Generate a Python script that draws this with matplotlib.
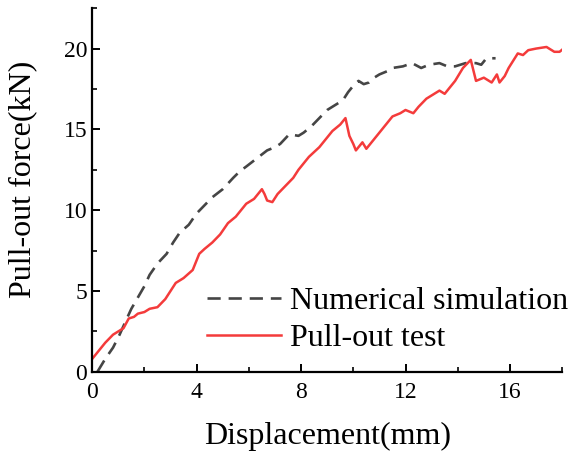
import matplotlib as mpl
mpl.use('Agg')
import matplotlib.pyplot as plt
from matplotlib.ticker import MultipleLocator

# Numerical simulation (dashed grey)
sim_x = [0.2, 0.5, 0.8, 1.05, 1.3, 1.5, 1.75, 2.0, 2.2, 2.5, 2.85, 3.1, 3.35, 3.7, 4.0,
         4.3, 4.6, 5.0, 5.4, 5.65, 5.9, 6.3, 6.7, 7.0, 7.2, 7.55, 7.9, 8.1, 8.4, 8.7,
         9.0, 9.3, 9.6, 9.8, 10.0, 10.2, 10.4, 10.6, 10.8, 11.0, 11.3, 11.5, 11.9, 12.25,
         12.6, 12.9, 13.3, 13.6, 13.9, 14.3, 14.7, 14.9, 15.1, 15.45]
sim_y = [0.0, 0.8, 1.5, 2.3, 3.2, 3.9, 4.6, 5.3, 6.0, 6.7, 7.3, 8.0, 8.6, 9.1, 9.8,
         10.3, 10.8, 11.3, 12.0, 12.4, 12.7, 13.2, 13.7, 13.9, 14.1, 14.7, 14.6, 14.8, 15.2, 15.7,
         16.2, 16.5, 16.8, 17.3, 17.7, 18.0, 17.8, 17.9, 18.2, 18.4, 18.6, 18.8, 18.9, 19.1,
         18.8, 19.0, 19.1, 18.9, 18.9, 19.1, 19.1, 19.0, 19.4, 19.4]

# Pull-out test (solid red)
test_x = [0.0, 0.2, 0.5, 0.8, 1.0, 1.2, 1.4, 1.6, 1.75, 2.0, 2.2, 2.5, 2.8, 3.2, 3.5,
          3.85, 4.1, 4.3, 4.6, 4.9, 5.2, 5.5, 5.9, 6.2, 6.5, 6.6, 6.7, 6.9, 7.1, 7.4,
          7.7, 7.9, 8.3, 8.7, 9.0, 9.2, 9.5, 9.7, 9.85, 10.0, 10.1, 10.35, 10.5, 10.7,
          10.9, 11.1, 11.3, 11.5, 11.8, 12.0, 12.3, 12.5, 12.8, 13.0, 13.3, 13.5, 13.7,
          13.9, 14.2, 14.5, 14.7, 15.0, 15.3, 15.5, 15.6, 15.8, 15.95, 16.3, 16.5, 16.7,
          17.0, 17.4, 17.7, 17.9, 18.05]
test_y = [0.8, 1.2, 1.8, 2.3, 2.5, 2.7, 3.3, 3.4, 3.6, 3.7, 3.9, 4.0, 4.5, 5.5, 5.8,
          6.3, 7.3, 7.6, 8.0, 8.5, 9.2, 9.6, 10.4, 10.7, 11.3, 11.0, 10.6, 10.5, 11.0, 11.5,
          12.0, 12.5, 13.3, 13.9, 14.5, 14.9, 15.3, 15.7, 14.6, 14.1, 13.7, 14.2, 13.8, 14.2,
          14.6, 15.0, 15.4, 15.8, 16.0, 16.2, 16.0, 16.4, 16.9, 17.1, 17.4, 17.2, 17.6,
          18.0, 18.8, 19.3, 18.0, 18.2, 17.9, 18.4, 17.9, 18.3, 18.8, 19.7, 19.6, 19.9,
          20.0, 20.1, 19.8, 19.8, 20.0]

plt.rcParams['font.family'] = ['Liberation Serif', 'DejaVu Serif']

fig = plt.figure(figsize=(5.69, 4.54), dpi=100)
ax = fig.add_axes([0.162, 0.181, 0.826, 0.801])

ax.plot(sim_x, sim_y, color='#454545', linestyle=(0, (5, 3)), linewidth=1.9,
        label='Numerical simulation')
ax.plot(test_x, test_y, color='#f43b3b', linewidth=1.8, label='Pull-out test')

ax.set_xlim(0, 18.0)
ax.set_ylim(0, 22.5)
ax.xaxis.set_major_locator(MultipleLocator(4))
ax.xaxis.set_minor_locator(MultipleLocator(2))
ax.yaxis.set_major_locator(MultipleLocator(5))
ax.yaxis.set_minor_locator(MultipleLocator(2.5))

for s in ['top', 'right']:
    ax.spines[s].set_visible(False)
for s in ['left', 'bottom']:
    ax.spines[s].set_linewidth(1.6)

ax.tick_params(which='major', direction='in', length=6, width=1.4, labelsize=17)
ax.tick_params(axis='x', which='major', pad=7)
ax.tick_params(which='minor', direction='in', length=3.5, width=1.2)

ax.set_xlabel('Displacement(mm)', fontsize=23, labelpad=14)
ax.set_ylabel('Pull-out force(kN)', fontsize=23)
ax.yaxis.set_label_coords(-0.117, 0.53)

ax.legend(loc='upper left', bbox_to_anchor=(0.245, 0.235), frameon=False, fontsize=23,
          borderpad=0, borderaxespad=0, handlelength=2.3, handletextpad=0.3,
          labelspacing=0.25)

fig.savefig('out.png', dpi=100)
